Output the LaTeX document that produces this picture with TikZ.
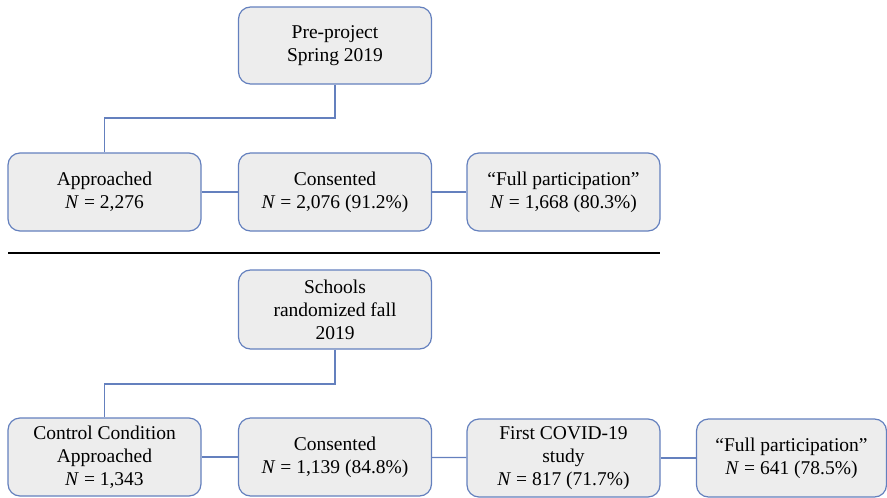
\documentclass[tikz,border=0pt]{standalone}
\usepackage{fontspec}
\setmainfont{Liberation Serif}
\definecolor{boxblue}{RGB}{100,128,190}
\definecolor{boxfill}{RGB}{237,237,237}
\begin{document}
\begin{tikzpicture}[x=1pt,y=-1pt,
  flowbox/.style={draw=boxblue, fill=boxfill, line width=1.2pt, rounded corners=12pt,
    minimum width=193pt, minimum height=78pt, align=center, inner sep=2pt,
    font=\fontsize{19.5}{23}\selectfont},
  link/.style={draw=boxblue, line width=1.2pt}]
\useasboundingbox (0,0) rectangle (887,498);
% top section
\node[flowbox, minimum height=77pt] (pre) at (335,45.5) {Pre-project\\Spring 2019};
\node[flowbox] (appr) at (104.5,192) {Approached\\\textit{N} = 2,276};
\node[flowbox] (cons1) at (335,192) {Consented\\\textit{N} = 2,076 (91.2\%)};
\node[flowbox] (full1) at (563.5,192) {“Full participation”\\\textit{N} = 1,668 (80.3\%)};
\coordinate (bend1) at (335,118);
\draw[link] (pre.south) -- (bend1) -| (appr.north);
\draw[link] (appr) -- (cons1);
\draw[link] (cons1) -- (full1);
% separator
\coordinate (sepL) at (8,253);
\coordinate (sepR) at (660,253);
\draw[line width=2.6pt, black] (sepL) -- (sepR);
% bottom section
\node[flowbox, minimum height=79pt] (sch) at (335,309.5) {Schools\\randomized fall\\2019};
\node[flowbox] (ctrl) at (104.5,457) {Control Condition\\Approached\\\textit{N} = 1,343};
\node[flowbox] (cons2) at (335,457) {Consented\\\textit{N} = 1,139 (84.8\%)};
\node[flowbox] (covid) at (563.5,458) {First COVID-19\\study\\\textit{N} = 817 (71.7\%)};
\node[flowbox, minimum width=190pt] (full2) at (791.5,458) {“Full participation”\\\textit{N} = 641 (78.5\%)};
\coordinate (bend2) at (335,384);
\draw[link] (sch.south) -- (bend2) -| (ctrl.north);
\draw[link] (ctrl) -- (cons2);
\draw[link] (cons2) -- (covid);
\draw[link] (covid) -- (full2);
\end{tikzpicture}
\end{document}
